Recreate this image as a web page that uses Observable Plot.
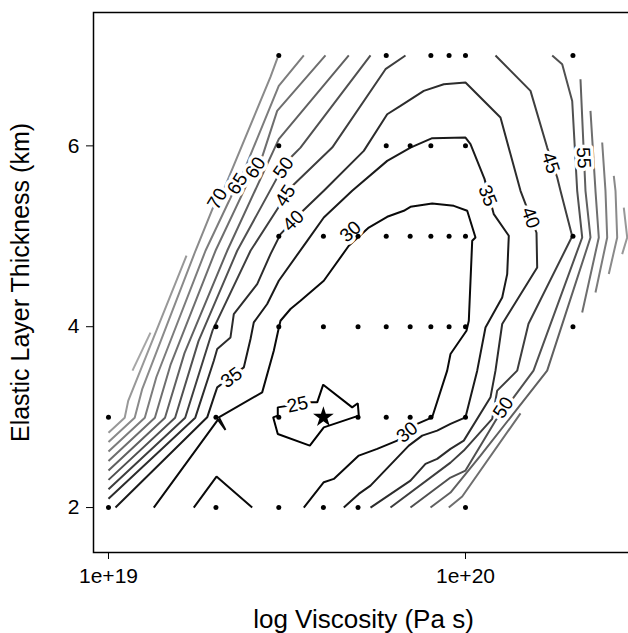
<!DOCTYPE html>
<html><head><meta charset="utf-8">
<script src="https://cdn.jsdelivr.net/npm/d3@7"></script>
<script src="https://cdn.jsdelivr.net/npm/@observablehq/plot@0.6"></script>
<style>body{margin:0;background:#fff}svg{display:block}</style>
</head><body><div id="chart"></div>
<script>
// x: log10 viscosity (Pa s), y: elastic layer thickness (km)
const xTicks = [19, 20];
const yTicks = [2, 4, 6];
const levels = [25, 30, 35, 40, 45, 50, 55, 60, 65, 70, 75, 80];
const levelGray = ["#000000","#0a0a0a","#1a1a1a","#2c2c2c","#3e3e3e","#505050","#606060","#6e6e6e","#7c7c7c","#8a8a8a","#989898","#a6a6a6"];

const c25 = [[19.5658,3.164],[19.5846,3.164],[19.6014,3.359],[19.6826,3.108],[19.6983,3.153],[19.7011,3.017],[19.6031,2.887],[19.5639,2.685],[19.4742,2.814],[19.4613,2.998],[19.4742,3.017],[19.4742,3.108],[19.5658,3.164]];
const c30a = [[19.5471,2.0],[19.6031,2.280],[19.6311,2.317],[19.7011,2.575],[19.7527,2.649],[19.8087,2.740],[19.8647,2.925],[19.9067,2.998],[19.9487,3.514],[19.9580,3.698],[20.0028,3.956],[20.0093,4.066],[20.0188,4.950],[20.0280,4.987],[20.0048,5.282],[19.9672,5.337],[19.9067,5.363],[19.8459,5.326],[19.8272,5.282],[19.7807,5.216],[19.7291,5.097],[19.6731,4.895],[19.6031,4.508],[19.5378,4.287],[19.5098,4.196],[19.4818,4.066],[19.4770,3.986],[19.4630,3.735],[19.4305,3.274],[19.3090,2.998],[19.3277,2.859],[19.3067,2.972],[19.1269,2.0]];
const c30b = [[19.2389,2.0],[19.3025,2.343],[19.4025,2.0]];
const c35 = [[19.0196,2.0],[19.2765,2.998],[19.2950,3.219],[19.3045,3.329],[19.3790,3.550],[19.3978,3.864],[19.4070,4.048],[19.4445,4.251],[19.4770,4.508],[19.5566,4.950],[19.6031,5.208],[19.6826,5.503],[19.7807,5.834],[19.8459,5.981],[19.9067,6.085],[20.0000,6.092],[20.0140,6.019],[20.0532,5.635],[20.0793,5.245],[20.1213,5.006],[20.1168,4.582],[20.1028,4.324],[20.0560,3.992],[20.0328,3.514],[20.0000,2.998],[19.9580,2.925],[19.9207,2.851],[19.8787,2.796],[19.8412,2.685],[19.7339,2.243],[19.7011,2.151],[19.6591,2.0]];
const c40 = [[19.0,2.098],[19.2431,2.994],[19.2950,3.624],[19.3045,3.754],[19.3417,3.882],[19.3510,4.140],[19.4165,4.472],[19.4538,4.803],[19.4818,5.024],[19.5426,5.274],[19.6031,5.503],[19.7151,5.945],[19.7807,6.350],[19.8179,6.442],[19.8832,6.608],[19.9392,6.682],[20.0,6.700],[20.0980,6.313],[20.1541,5.503],[20.1989,5.039],[20.2008,4.655],[20.1028,4.030],[20.0840,3.514],[20.0700,3.219],[19.9952,2.740],[19.9580,2.649],[19.9207,2.538],[19.8879,2.483],[19.8459,2.298],[19.7339,2.0]];
const c45a = [[19.0,2.202],[19.2148,2.994],[19.2913,3.956],[19.3978,4.840],[19.4790,5.337],[19.5154,5.558],[19.6266,5.981],[19.7759,6.848],[19.8319,7.0]];
const c45b = [[20.0840,7.0],[20.1821,6.608],[20.2288,5.981],[20.2569,5.650],[20.2661,5.503],[20.2989,5.0],[20.1765,4.033],[20.1448,3.514],[20.0888,3.293],[20.0748,2.980],[19.9952,2.630],[19.9580,2.497],[19.7899,2.0]];
const c50a = [[19.0,2.306],[19.1866,2.994],[19.2521,3.841],[19.3605,4.840],[19.4706,5.635],[19.5098,5.868],[19.5378,5.981],[19.7339,7.0]];
const c50b = [[20.2429,7.0],[20.2709,6.903],[20.2989,6.497],[20.3129,5.503],[20.3269,4.987],[20.1905,3.514],[20.1344,3.216],[20.0840,2.961],[20.0,2.409],[19.9580,2.332],[19.8459,2.0]];
const c55a = [[19.0,2.411],[19.1583,2.994],[19.2129,3.708],[19.3325,4.840],[19.4770,6.074],[19.6731,7.0]];
const c55b = [[20.3221,6.737],[20.3361,5.503],[20.3501,4.987],[20.2288,3.514],[20.0420,2.575],[19.9580,2.166],[19.9020,2.0]];
const c60a = [[19.0,2.515],[19.1300,2.994],[19.1737,3.577],[19.2997,4.840],[19.3922,5.613],[19.4314,5.890],[19.4725,6.387],[19.6078,7.0]];
const c60b = [[20.3501,6.387],[20.3641,5.503],[20.3734,4.987],[20.3269,4.158]];
const c60c = [[20.1541,3.042],[19.9908,2.122],[19.9532,2.0]];
const c65a = [[19.0,2.619],[19.1017,2.994],[19.1342,3.444],[19.2717,4.840],[19.3445,5.448],[19.3782,5.713],[19.4770,6.663],[19.5471,7.0]];
const c65b = [[20.3829,6.037],[20.3921,5.503],[20.3969,4.987],[20.3641,4.379]];
const c70a = [[19.0,2.724],[19.0734,2.994],[19.0947,3.313],[19.2437,4.840],[19.2913,5.304],[19.3213,5.503],[19.4538,6.763],[19.4734,6.973]];
const c70b = [[20.4154,5.669],[20.4202,5.503],[20.4249,4.987],[20.4014,4.582]];
const c75a = [[19.0,2.828],[19.0454,2.994],[19.0552,3.180],[19.2185,4.785]];
const c75b = [[20.4434,5.318],[20.4529,4.987],[20.4389,4.803]];
const c80 = [[19.0672,3.514],[19.1176,3.934]];

const pieces = [
  [25,c25],[30,c30a],[30,c30b],[35,c35],[40,c40],[45,c45a],[45,c45b],
  [50,c50a],[50,c50b],[55,c55a],[55,c55b],[60,c60a],[60,c60b],[60,c60c],
  [65,c65a],[65,c65b],[70,c70a],[70,c70b],[75,c75a],[75,c75b],[80,c80]
];

// contour labels: text, x, y, angle
const labText = ["25","30","30","35","35","40","40","45","45","50","50","55","60","65","70"];
const labX = [19.5294,19.6779,19.8367,19.3445,20.0616,19.5182,20.1821,19.4958,20.2381,19.4902,20.1064,20.3305,19.4118,19.3613,19.3053];
const labY = [3.138,5.050,2.832,3.437,5.448,5.171,5.205,5.448,5.812,5.757,3.105,5.868,5.757,5.580,5.414];
const labAngle = [-12,-42,-40,-37,68,-45,70,-57,72,-55,-57,87,-58,-58,-60];

// model runs
const runX = [19.477,19.778,19.903,19.954,20,20.301,
              19.477,19.778,19.845,19.903,20,
              19.477,19.602,19.699,19.778,19.845,19.903,19.954,20,20.301,
              19.301,19.477,19.602,19.699,19.778,19.845,19.903,19.954,20,20.301,
              19,19.301,19.477,19.699,19.778,19.845,19.903,20,
              19,19.301,19.477,19.602,19.699,20];
const runY = [7,7,7,7,7,7, 6,6,6,6,6, 5,5,5,5,5,5,5,5,5, 4,4,4,4,4,4,4,4,4,4, 3,3,3,3,3,3,3,3, 2,2,2,2,2,2];
const bestX = [19.602], bestY = [3];

const lineRows = pieces.flatMap(([lev, pts], i) => pts.map(([x, y]) => ({x, y, id: i, color: levelGray[levels.indexOf(lev)]})));
const labRows = labText.map((t, i) => ({t, x: labX[i], y: labY[i], a: labAngle[i]}));
const runRows = runX.map((x, i) => ({x, y: runY[i]}));
const bestRows = bestX.map((x, i) => ({x, y: bestY[i]}));

const font = "'Liberation Sans', Arial, Helvetica, sans-serif";
const chart = Plot.plot({
  width: 628, height: 633,
  marginLeft: 93, marginRight: -3, marginTop: 12, marginBottom: 81,
  style: {fontFamily: font, background: "#fff", color: "#000"},
  x: {domain: [18.958, 20.465]},
  y: {domain: [1.503, 7.475]},
  marks: [
    Plot.line(lineRows, {x: "x", y: "y", z: "id", stroke: "color", strokeWidth: 2, strokeLinejoin: "miter", strokeLinecap: "butt"}),
    Plot.text(labRows, {x: "x", y: "y", text: "t", rotate: "a", fontSize: 19, fill: "#000", stroke: "#fff", strokeWidth: 7}),
    Plot.dot(runRows, {x: "x", y: "y", r: 2.5, fill: "#000", stroke: "none"}),
    Plot.dot(bestRows, {x: "x", y: "y", symbol: "star", r: 6.5, fill: "#000", stroke: "none"}),
    Plot.frame({stroke: "#000", strokeWidth: 1.5}),
    Plot.axisX(xTicks, {tickFormat: d => "1e+" + d, tickSize: 7, tickPadding: 9, fontSize: 21, label: null, stroke: "#000"}),
    Plot.axisY(yTicks, {tickFormat: d => String(d), tickSize: 7, tickPadding: 7, fontSize: 21, label: null, stroke: "#000"}),
    Plot.text(["log Viscosity (Pa s)"], {frameAnchor: "bottom", dy: 75, dx: 1, fontSize: 26, fill: "#000"}),
    Plot.text(["Elastic Layer Thickness (km)"], {frameAnchor: "left", textAnchor: "middle", dx: -73, rotate: -90, fontSize: 25, fill: "#000"})
  ]
});
document.getElementById("chart").appendChild(chart);
</script>
</body></html>
